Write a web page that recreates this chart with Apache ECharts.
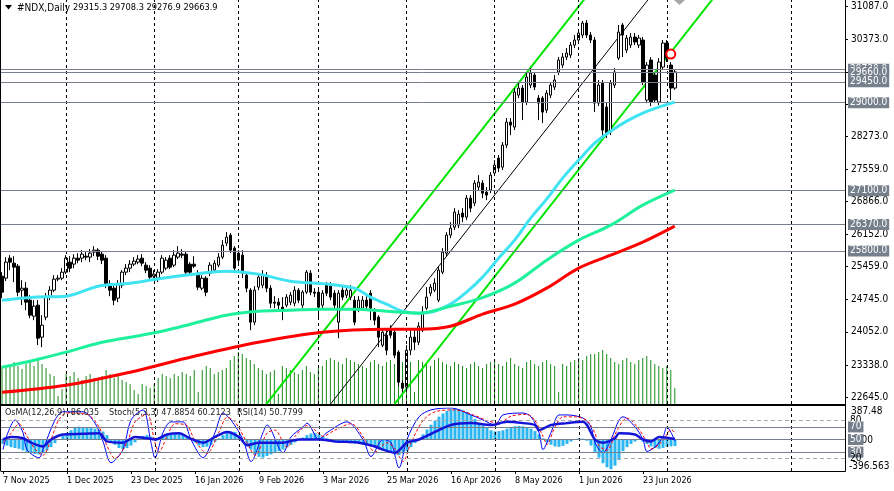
<!DOCTYPE html>
<html><head><meta charset="utf-8">
<script src="https://cdn.jsdelivr.net/npm/echarts@6/dist/echarts.min.js"></script>
<style>html,body{margin:0;padding:0;background:#fff}#c{width:894px;height:491px}</style>
</head><body><div id="c"></div>
<script>
// ---------- DATA ----------
const tradingDays = [
  ['Nov', 2025, [7,10,11,12,13,14,17,18,19,20,21,24,25,26,27,28]],
  ['Dec', 2025, [1,2,3,4,5,8,9,10,11,12,15,16,17,18,19,22,23,24,26,29,30,31]],
  ['Jan', 2026, [2,5,6,7,8,9,12,13,14,15,16,19,20,21,22,23,26,27,28,29,30]],
  ['Feb', 2026, [2,3,4,5,6,9,10,11,12,13,16,17,18,19,20,23,24,25,26,27]],
  ['Mar', 2026, [2,3,4,5,6,9,10,11,12,13,16,17,18,19,20,23,24,25,26,27,30,31]],
  ['Apr', 2026, [1,2,3,6,7,8,9,10,13,14,15,16,17,20,21,22,23,24,27,28,29,30]],
  ['May', 2026, [1,4,5,6,7,8,11,12,13,14,15,18,19,20,21,22,25,26,27,28,29]],
  ['Jun', 2026, [1,2,3,4,5,8,9,10,11,12,15,16,17,18,19,22,23,24,25,26,29,30]],
  ['Jul', 2026, [1,2,3]]
];
const futureSlots = 42;
const labelEvery = 16;

const opens = [25254,25211,25643,25535,25470,24952,24995,24736,24390,24628,
23937,24369,24801,24952,25190,25211,25341,25557,25514,25643,
25643,25686,25665,25773,25816,25730,25643,25082,24995,24779,
25060,25341,25427,25514,25557,25643,25492,25427,25254,25211,
25341,25427,25643,25492,25665,25730,25730,25514,25514,25276,
24995,25211,25319,25384,25492,25665,25967,26140,25859,25751,
25708,25276,24952,24261,25017,25060,25276,24995,24693,24693,
24585,24628,24693,24671,24952,24628,24909,25319,24909,24909,
24628,25060,25060,24887,24261,24952,24844,24801,24736,24563,
24563,24736,24887,24477,24369,23764,23980,24131,24045,23613,
22943,22857,23656,23937,23829,24088,24563,24887,24952,24736,
25341,25751,26140,26313,26356,26615,26529,26939,26831,27177,
27263,27069,27112,27479,27803,27609,28084,28581,28473,29164,
29315,29013,29380,29596,29099,29099,28840,29164,29337,29661,
29812,29985,30028,30244,30352,30460,30719,30460,30352,28991,
29423,28905,28365,29380,29963,30676,30136,30244,30417,30244,
30352,29056,29920,29596,29013,29769,30287,29812,29315.3];
const closes = [24909,25557,25557,25449,24909,24995,24693,24412,24606,23915,
24196,24801,24952,25190,25211,25341,25643,25427,25643,25600,
25730,25665,25751,25816,25686,25600,25060,24952,24736,25082,
25341,25427,25514,25578,25622,25535,25384,25233,25298,25341,
25643,25600,25449,25708,25751,25708,25341,25341,25470,25017,
25211,24909,25492,25535,25665,25924,26097,25816,25427,25600,
25319,24995,24261,24952,25233,25276,24995,24671,24671,24628,
24520,24801,24844,24952,24736,24909,25341,24909,24887,24585,
24887,24887,24801,24628,24887,24801,24952,24952,24261,24736,
24736,24606,24563,24304,23937,24045,23656,23980,23548,22965,
22835,23656,23937,23829,24174,24477,24801,25017,25103,25384,
25773,26140,26291,26637,26594,26529,26939,26723,27263,27285,
27047,27004,27436,27652,27587,28084,28581,28516,29229,29315,
29013,29553,29639,29337,28991,28797,29207,29380,29488,29920,
29985,30071,30244,30352,30503,30719,30460,30352,28991,29380,
28408,28343,29423,29661,30525,30460,30395,30417,30309,30395,
29445,29812,29013,29056,29877,30287,29963,29315,29663.9];
const lows = [24779,25146,25384,25125,24822,24628,24520,24347,24304,23764,
23721,24304,24736,24909,25146,25168,25298,25341,25427,25535,
25557,25600,25557,25686,25600,25514,24995,24822,24628,24693,
24995,25276,25341,25470,25514,25470,25319,25168,25168,25125,
25298,25384,25406,25449,25622,25643,25298,25276,25427,24952,
24952,24822,25254,25341,25449,25622,25902,25751,25362,25535,
25211,24909,24088,24196,24952,24995,24909,24563,24563,24520,
24304,24585,24628,24606,24671,24563,24866,24844,24801,24369,
24563,24822,24736,24563,23915,24736,24779,24736,24196,24477,
24520,24520,24304,24196,23721,23721,23548,23915,23483,22878,
22749,22749,23548,23656,23764,24045,24520,24822,24909,24693,
25298,25686,26075,26248,26291,26421,26464,26637,26766,27112,
26939,26896,27047,27436,27501,27544,28019,28300,28408,29099,
28624,28948,29315,29272,28624,28559,28775,29099,29272,29596,
29747,29920,29963,30179,30287,30395,30395,30287,28797,28926,
28257,28235,28300,29315,29920,29985,30071,30179,30244,30179,
29380,28991,28926,28991,28948,29704,29877,29056,29276.9];
const highs = [25341,25665,25708,25686,25514,25168,25125,24844,24736,24736,
24412,24887,25038,25276,25276,25427,25708,25686,25730,25751,
25816,25773,25838,25902,25859,25794,25708,25168,25060,25168,
25384,25514,25600,25665,25708,25730,25557,25492,25384,25406,
25708,25665,25708,25816,25902,25838,25794,25557,25686,25384,
25276,25254,25557,25600,25751,26032,26205,26183,25902,25816,
25816,25341,24995,25038,25298,25384,25341,25060,24822,24779,
24801,24866,24909,25038,24995,24952,25384,25384,24995,24952,
24952,25125,25125,24952,24952,25038,25038,25060,24822,24822,
24822,24822,24952,24563,24412,24131,24088,24196,24088,23656,
23008,23764,24088,24088,24261,24606,25017,25082,25211,25470,
25859,26205,26421,26723,26680,26723,27004,27004,27328,27436,
27328,27177,27501,27760,27868,28149,28667,28667,29315,29445,
29380,29639,29747,29661,29164,29142,29272,29445,29596,29985,
30071,30179,30309,30460,30568,30762,30784,30525,30417,29488,
29488,28991,29488,29747,30676,30719,30460,30503,30503,30460,
30417,29877,29985,29661,29963,30352,30352,29877,29708.3];
const volumes = [38,36,40,42,38,35,40,42,38,44,
40,36,30,28,8,15,30,28,32,26,
24,28,30,26,24,28,34,30,26,28,
24,22,20,14,10,20,18,16,20,26,
30,28,26,30,28,32,30,28,34,12,
34,38,36,30,32,34,36,44,48,52,
50,46,44,40,36,34,30,32,34,10,
38,36,34,32,30,34,38,32,30,36,
38,44,46,44,42,40,46,44,42,40,
38,36,42,44,40,38,42,44,40,38,
42,40,42,12,44,42,40,38,44,46,
42,40,38,42,40,38,36,40,42,38,
36,40,42,44,40,38,42,46,40,38,
36,42,44,40,38,42,44,40,38,12,
40,38,42,44,46,44,48,50,50,52,
54,50,46,42,40,44,46,42,40,44,
46,48,44,40,38,36,38,34,16];
const maFast = [[0,24736],[8,24801],[16,24822],[24,25038],[32,25103],[40,25211],[48,25298],[56,25362],[64,25298],[72,25146],[80,25093],[88,24995],[92,24801],[96,24650],[100,24498],[104,24455],[108,24498],[112,24650],[116,24909],[120,25233],[124,25643],[128,26032],[132,26507],[136,26918],[140,27371],[144,27760],[148,28127],[152,28386],[156,28602],[160,28775],[164,28905],[168,29013]];
const maMid = [[0,23289],[8,23440],[16,23613],[24,23807],[32,23937],[40,24066],[48,24239],[56,24412],[64,24498],[72,24520],[80,24542],[88,24542],[96,24498],[104,24455],[112,24606],[120,24790],[128,25103],[136,25600],[144,26032],[152,26356],[160,26788],[168,27112]];
const maSlow = [[0,22749],[16,22900],[32,23181],[48,23526],[64,23829],[80,24045],[96,24110],[104,24110],[112,24174],[120,24434],[128,24650],[136,24995],[144,25427],[152,25708],[160,25989],[168,26334]];
const channelUpper = [[66,22490],[146,31298]];
const channelMiddle = [[82,22490],[162,31298]];
const channelLower = [[98,22490],[178,31298]];
const markerPoint = [[167,30050]];
const priceLevels = [29720,29660,29450,29000,27100,26370,25800];
const priceTicks = [31087,30373,29660,28960,28273,27559,26866,26152,25459,24745,24052,23338,22645];
const monthStarts = [16,38,59,79,101,123,144,166,197];

const osma = [-60,-80,-100,-110,-120,-140,-160,-175,-185,-190,
-175,-140,-100,-50,-10,40,80,110,140,155,
150,145,140,130,120,95,50,-20,-70,-110,
-125,-110,-80,-40,10,40,50,30,0,20,
45,60,70,72,68,55,30,0,-40,-80,
-100,-95,-70,-30,10,50,80,95,90,50,
0,-60,-130,-190,-220,-230,-210,-190,-170,-150,
-130,-100,-70,-40,-10,20,50,70,75,60,
30,10,-10,-20,-30,-40,-45,-50,-55,-60,
-70,-80,-90,-100,-120,-140,-150,-170,-190,-200,
-180,-150,-100,-50,0,60,120,180,230,280,
320,350,370,380,375,360,340,300,250,200,
170,140,110,95,100,110,130,150,160,165,
160,150,130,100,60,10,-40,-70,-90,-95,
-85,-60,-30,0,10,5,-20,-80,-160,-230,
-300,-350,-375,-330,-260,-150,-100,-60,-30,-10,
-30,-60,-90,-110,-120,-110,-95,-90,-86.035];
const stochMain = [[0,34],[1,57],[3,81],[5,61],[6,34],[9,21],[10,34],[13,81],[15,94],[20,94],[23,76],[25,47],[27,13],[30,34],[32,81],[35,97],[37,45],[38,21],[40,61],[42,78],[45,78],[47,50],[50,21],[53,61],[55,92],[57,81],[60,50],[62,15],[65,61],[66,73],[70,29],[72,54],[75,70],[76,76],[79,50],[81,61],[86,78],[90,50],[92,23],[95,50],[97,45],[99,5],[101,50],[104,86],[107,97],[112,100],[117,89],[120,81],[123,73],[125,89],[130,92],[132,86],[134,61],[135,34],[137,61],[139,89],[141,89],[145,84],[147,70],[148,45],[150,29],[152,50],[154,81],[155,86],[158,70],[160,50],[161,31],[163,38],[165,54],[166,70],[167,61],[168,47.8854]];
const stochSignal = [[0,45],[2,60],[4,75],[6,55],[8,35],[10,25],[12,50],[14,82],[16,92],[21,90],[24,70],[26,40],[28,20],[31,45],[33,78],[36,90],[38,45],[39,30],[41,55],[43,75],[46,72],[48,48],[51,28],[54,62],[56,85],[58,78],[61,45],[63,25],[66,60],[68,65],[71,38],[73,55],[76,72],[78,65],[80,55],[83,65],[87,75],[91,45],[93,30],[96,45],[98,35],[100,15],[102,45],[105,80],[108,94],[113,97],[118,88],[121,80],[124,76],[127,87],[131,90],[133,80],[135,55],[136,42],[138,70],[140,86],[143,86],[146,80],[148,60],[149,40],[151,33],[153,58],[155,80],[156,84],[159,66],[161,45],[162,35],[164,42],[166,58],[167,66],[168,60.2123]];
const rsi = [[0,50],[2,54],[5,52],[7,45],[10,39],[12,50],[15,58],[20,59],[24,60],[26,47],[30,45],[33,54],[36,52],[38,50],[41,58],[44,60],[47,51],[50,45],[53,54],[56,62],[59,54],[61,41],[64,45],[70,45],[74,50],[79,50],[83,47],[89,45],[93,39],[95,34],[98,29],[101,45],[104,50],[108,62],[112,73],[117,76],[122,73],[126,78],[130,76],[133,73],[134,65],[137,73],[141,76],[145,78],[146,73],[148,50],[150,45],[153,52],[154,60],[158,58],[160,50],[162,47],[164,54],[168,50.7799]];
const oscLevels = [80,70,50,30,20];
const osmaRange = [-396.563, 387.48];

// ---------- BUILD ----------
const F = "'DejaVu Sans Condensed','DejaVu Sans',sans-serif";
const FS = 10;
const dates = [];
tradingDays.forEach(([m, y, ds]) => ds.forEach(d => dates.push(d + ' ' + m + ' ' + y)));
const cats = dates.slice();
for (let i = 0; i < futureSlots; i++) cats.push('f' + i);
const N = dates.length;
const candleData = opens.map((o, i) => [o, closes[i], lows[i], highs[i]]);
const labelInterval = (idx) => idx % labelEvery === 0 && idx < N;
const LVL = '#76808c';

const chart = echarts.init(document.getElementById('c'), null, {renderer: 'canvas'});
const xBase = {type: 'category', data: cats, boundaryGap: true, axisLabel: {show: false}, axisTick: {show: false}, splitLine: {show: false}, axisPointer: {show: false}};
const vLines = (xi, yi) => ({
  type: 'line', xAxisIndex: xi, yAxisIndex: yi, data: [[0, null]], symbol: 'none', silent: true, z: 1,
  markLine: {silent: true, symbol: ['none', 'none'], animation: false, label: {show: false},
    lineStyle: {color: '#000', type: [3, 3], width: 1}, data: monthStarts.map(i => ({xAxis: i}))}
});

chart.setOption({
  animation: false,
  backgroundColor: '#fff',
  grid: [
    {left: 0, top: 0, width: 845, height: 404},
    {left: 0, top: 408, width: 845, height: 63},
    {left: 0, top: 304, width: 845, height: 100}
  ],
  xAxis: [
    Object.assign({}, xBase, {gridIndex: 0, axisLine: {show: true, lineStyle: {color: '#000', width: 1}}}),
    Object.assign({}, xBase, {gridIndex: 1, axisLine: {show: true, lineStyle: {color: '#000', width: 1}},
      axisTick: {show: true, interval: labelInterval, alignWithLabel: true, length: 3, lineStyle: {color: '#000'}},
      axisLabel: {show: true, interval: labelInterval, align: 'left', margin: 5, color: '#000', fontSize: 9, fontFamily: F,
        formatter: v => (v.charAt(0) === 'f' ? '' : v)}}),
    Object.assign({}, xBase, {gridIndex: 2, axisLine: {show: false}})
  ],
  yAxis: [
    {type: 'value', gridIndex: 0, position: 'right', min: 22494, max: 31217, scale: true,
      splitLine: {show: false},
      axisLine: {show: true, lineStyle: {color: '#000'}},
      axisTick: {show: true, length: 3, customValues: priceTicks, lineStyle: {color: '#000'}},
      axisLabel: {show: true, customValues: priceTicks, margin: 6, color: '#000', fontSize: FS, fontFamily: F,
        formatter: v => v.toFixed(1)}},
    {type: 'value', gridIndex: 1, position: 'right', min: 0, max: 100,
      splitLine: {show: false}, axisLine: {show: true, lineStyle: {color: '#000'}},
      axisTick: {show: false}, axisLabel: {show: false}},
    {type: 'value', gridIndex: 1, position: 'right', min: osmaRange[0], max: osmaRange[1],
      splitLine: {show: false}, axisLine: {show: false}, axisTick: {show: false}, axisLabel: {show: false}},
    {type: 'value', gridIndex: 2, min: 0, max: 100, show: false, splitLine: {show: false}}
  ],
  series: [
    {type: 'bar', name: 'Volume', xAxisIndex: 2, yAxisIndex: 3, data: volumes, barWidth: 1, z: 1,
      itemStyle: {color: '#1c8a1c'}, silent: true},
    vLines(0, 0),
    {type: 'line', data: channelUpper, symbol: 'none', z: 2, silent: true, lineStyle: {color: '#00e600', width: 2}},
    {type: 'line', data: channelMiddle, symbol: 'none', z: 2, silent: true, lineStyle: {color: '#000', width: 1}},
    {type: 'line', data: channelLower, symbol: 'none', z: 2, silent: true, lineStyle: {color: '#00e600', width: 2}},
    {type: 'candlestick', name: '#NDX', data: candleData, barWidth: 3, z: 4, silent: true,
      itemStyle: {color: '#fff', color0: '#000', borderColor: '#000', borderColor0: '#000', borderWidth: 1},
      markLine: {silent: true, symbol: ['none', 'none'], animation: false,
        lineStyle: {color: LVL, type: 'solid', width: 1},
        label: {show: true, position: 'end', distance: 3, formatter: p => p.value.toFixed(1),
          color: '#fff', backgroundColor: LVL, padding: [1, 2, 0, 2], fontSize: FS, fontFamily: F},
        data: priceLevels.map(v => ({yAxis: v}))}},
    {type: 'line', name: 'MA fast', data: maFast, symbol: 'none', smooth: 0.35, z: 5, silent: true, lineStyle: {color: '#3fe3f2', width: 3}},
    {type: 'line', name: 'MA mid', data: maMid, symbol: 'none', smooth: 0.35, z: 5, silent: true, lineStyle: {color: '#1ff09c', width: 3}},
    {type: 'line', name: 'MA slow', data: maSlow, symbol: 'none', smooth: 0.35, z: 5, silent: true, lineStyle: {color: '#ff0000', width: 3}},
    {type: 'scatter', data: markerPoint, symbol: 'emptyCircle', symbolSize: 9, z: 6, silent: true,
      itemStyle: {color: '#ff0000', borderColor: '#ff0000', borderWidth: 1.2, opacity: 1}},
    // indicator window
    vLines(1, 1),
    {type: 'bar', name: 'OsMA', xAxisIndex: 1, yAxisIndex: 2, data: osma, barWidth: 3, z: 2, silent: true,
      itemStyle: {color: '#2bb6f2'}},
    {type: 'line', name: 'levels', xAxisIndex: 1, yAxisIndex: 1, data: [[0, null]], symbol: 'none', z: 3, silent: true,
      markLine: {silent: true, symbol: ['none', 'none'], animation: false,
        data: oscLevels.map(v => {
          const boxed = (v === 70 || v === 50 || v === 30);
          return {yAxis: v,
            lineStyle: boxed ? {color: LVL, type: 'solid', width: 1} : {color: '#a8a8a8', type: [4, 3], width: 1},
            label: boxed ? {show: true, position: 'end', distance: 3, formatter: String(v), color: '#fff', backgroundColor: LVL,
                              padding: [1, 2, 0, 2], fontSize: FS, fontFamily: F}
                         : {show: true, position: 'end', distance: 5, formatter: String(v), color: '#000', fontSize: FS, fontFamily: F}};
        })}},
    {type: 'line', name: 'Stoch', xAxisIndex: 1, yAxisIndex: 1, data: stochMain, symbol: 'none', smooth: 0.3, z: 4, silent: true,
      lineStyle: {color: '#0000ff', width: 1}},
    {type: 'line', name: 'Signal', xAxisIndex: 1, yAxisIndex: 1, data: stochSignal, symbol: 'none', smooth: 0.3, z: 4, silent: true,
      lineStyle: {color: '#ff0000', width: 1, type: [3, 2]}},
    {type: 'line', name: 'RSI', xAxisIndex: 1, yAxisIndex: 1, data: rsi, symbol: 'none', smooth: 0.3, z: 5, silent: true,
      lineStyle: {color: '#1414d8', width: 2.5}}
  ],
  graphic: {elements: [
    {type: 'polygon', z: 100, shape: {points: [[5, 5], [12, 5], [8.5, 9.5]]}, style: {fill: '#000'}},
    {type: 'text', z: 100, x: 17, y: 8, style: {text: '#NDX,Daily', font: '10px ' + F, fill: '#000', verticalAlign: 'middle'}},
    {type: 'text', z: 100, x: 73, y: 8, style: {text: '29315.3 29708.3 29276.9 29663.9', font: '9.2px ' + F, fill: '#000', verticalAlign: 'middle'}},
    {type: 'polygon', z: 100, shape: {points: [[674, 0], [685, 0], [679.5, 5]]}, style: {fill: '#a8a8a8'}},
    {type: 'text', z: 100, x: 5, y: 413, style: {text: 'OsMA(12,26,9) -86.035', font: '9px ' + F, fill: '#222', verticalAlign: 'middle'}},
    {type: 'text', z: 100, x: 109, y: 413, style: {text: 'Stoch(5,3,3) 47.8854 60.2123', font: '9px ' + F, fill: '#222', verticalAlign: 'middle'}},
    {type: 'text', z: 100, x: 237, y: 413, style: {text: 'RSI(14) 50.7799', font: '9px ' + F, fill: '#222', verticalAlign: 'middle'}},
    {type: 'text', z: 0, x: 853, y: 440, style: {text: '0.00', font: FS + 'px ' + F, fill: '#000', verticalAlign: 'middle'}},
    {type: 'text', z: 100, x: 851, y: 411, style: {text: '387.48', font: FS + 'px ' + F, fill: '#000', verticalAlign: 'middle'}},
    {type: 'text', z: 100, x: 849, y: 466, style: {text: '-396.563', font: FS + 'px ' + F, fill: '#000', verticalAlign: 'middle'}},
    {type: 'line', z: 100, shape: {x1: 0.5, y1: 0, x2: 0.5, y2: 471}, style: {stroke: '#000', lineWidth: 1}},
    {type: 'line', z: 100, shape: {x1: 845.5, y1: 0, x2: 845.5, y2: 471.5}, style: {stroke: '#000', lineWidth: 1}},
    {type: 'line', z: 100, shape: {x1: 0, y1: 405.5, x2: 846, y2: 405.5}, style: {stroke: '#000', lineWidth: 1}}
  ]}
});
</script></body></html>
